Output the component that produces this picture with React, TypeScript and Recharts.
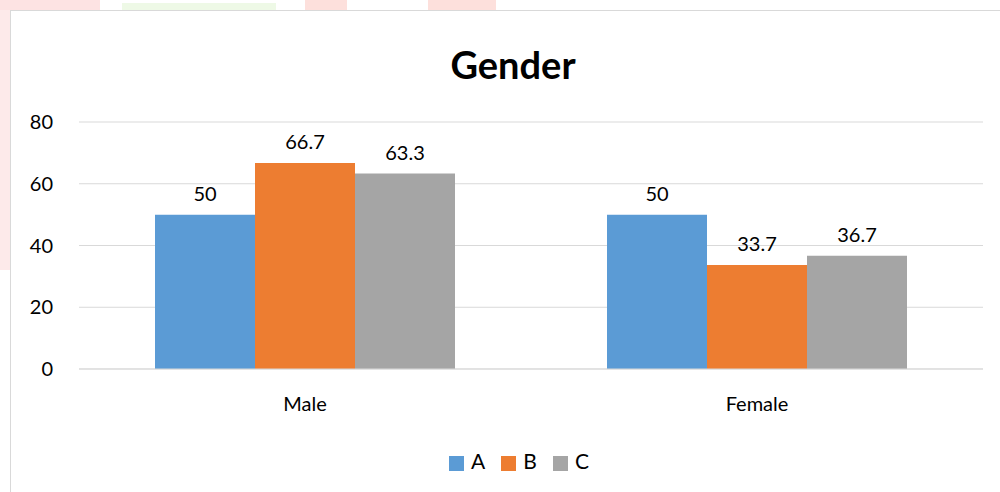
import { Bar, BarChart, CartesianGrid, LabelList, Legend, XAxis, YAxis } from "recharts";

const categories = ["Male", "Female"];
const seriesA = [50, 50];
const seriesB = [66.7, 33.7];
const seriesC = [63.3, 36.7];
const yTicks = [0, 20, 40, 60, 80];

const series = [
  { key: "A", values: seriesA, color: "#5b9bd5" },
  { key: "B", values: seriesB, color: "#ed7d31" },
  { key: "C", values: seriesC, color: "#a5a5a5" },
];

const data = categories.map((name, i) => {
  const row: Record<string, string | number> = { name };
  series.forEach((s) => (row[s.key] = s.values[i]));
  return row;
});

const font = "Lato, 'Open Sans', sans-serif";

export default function App() {
  return (
    <div style={{ position: "fixed", left: 0, top: 0, width: 1000, height: 492, background: "#fff", overflow: "hidden", fontFamily: font }}>
      {/* faint page watermark bits around the frame */}
      <div style={{ position: "absolute", left: 0, top: 0, width: 100, height: 10, background: "#fde3e3" }} />
      <div style={{ position: "absolute", left: 122, top: 3, width: 154, height: 7, background: "#eef9e6" }} />
      <div style={{ position: "absolute", left: 305, top: 0, width: 42, height: 10, background: "#fde0dc" }} />
      <div style={{ position: "absolute", left: 428, top: 0, width: 68, height: 10, background: "#fde0dc" }} />
      <div style={{ position: "absolute", left: 0, top: 10, width: 10, height: 260, background: "#fdeaea" }} />
      <div
        style={{
          position: "absolute",
          left: 10,
          top: 10,
          width: 1000,
          height: 500,
          border: "1px solid #d9d9d9",
          background: "#fff",
        }}
      >
        <div
          style={{
            position: "absolute",
            left: 0,
            top: 30,
            width: 1004,
            textAlign: "center",
            fontSize: 38,
            fontWeight: 700,
            color: "#000",
          }}
        >
          Gender
        </div>
        <BarChart
          width={989}
          height={481}
          data={data}
          margin={{ top: 111, right: 17, left: 0, bottom: 0 }}
          barCategoryGap={76}
          barGap={0}
        >
          <CartesianGrid stroke="#d9d9d9" vertical={false} />
          <XAxis
            dataKey="name"
            axisLine={{ stroke: "#d9d9d9" }}
            tickLine={false}
            tickSize={0}
            tickMargin={28}
            height={98}
            tick={{ fontSize: 20, fill: "#000", fontFamily: font }}
          />
          <YAxis
            domain={[0, 80]}
            ticks={yTicks}
            axisLine={false}
            tickLine={false}
            tickSize={0}
            tickMargin={26}
            width={68}
            tick={{ fontSize: 20, fill: "#000", fontFamily: font }}
          />
          <Legend
            verticalAlign="bottom"
            iconType="square"
            iconSize={15}
            wrapperStyle={{ bottom: 19, left: 30, fontSize: 20, fontFamily: font }}
            formatter={(v) => <span style={{ color: "#000", fontSize: 21, marginLeft: 3, marginRight: 6 }}>{v}</span>}
          />
          {series.map((s) => (
            <Bar key={s.key} dataKey={s.key} fill={s.color} isAnimationActive={false}>
              <LabelList dataKey={s.key} position="top" offset={14} fill="#000" fontSize={20} fontFamily={font} />
            </Bar>
          ))}
        </BarChart>
      </div>
    </div>
  );
}
